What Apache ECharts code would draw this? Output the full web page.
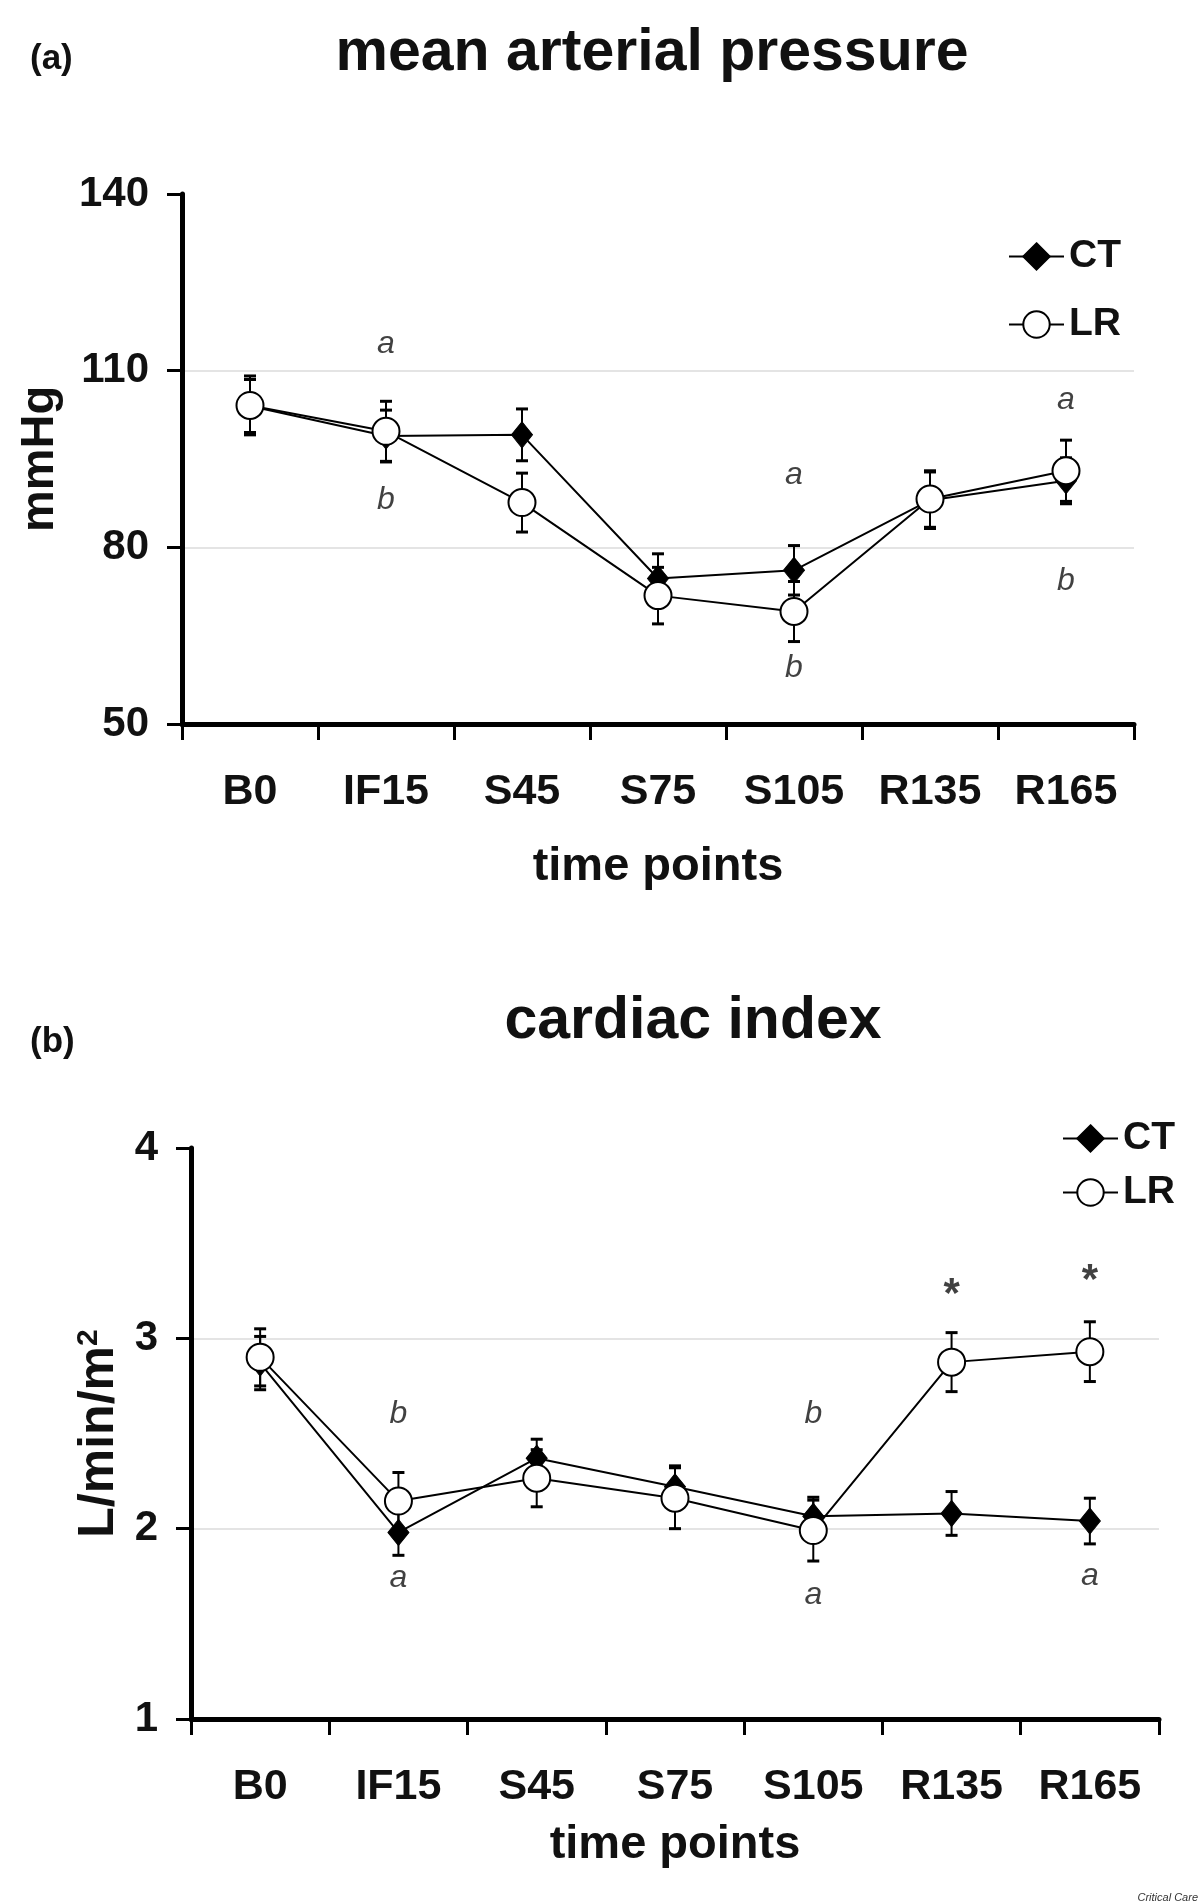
<!DOCTYPE html>
<html><head><meta charset="utf-8">
<script src="https://cdn.jsdelivr.net/npm/echarts@6/dist/echarts.min.js"></script>
<style>html,body{margin:0;padding:0;background:#fff}#c{width:1200px;height:1904px}</style>
</head><body><div id="c"></div>
<script>
// ---------- data ----------
const categories = ['B0', 'IF15', 'S45', 'S75', 'S105', 'R135', 'R165'];

// (a) mean arterial pressure (mmHg)
const mapTicks = [50, 80, 110, 140];
const mapCT    = [104.0, 98.9, 99.1, 74.7, 76.1, 88.0, 91.3];
const mapCTErr = [4.5, 4.4, 4.4, 4.2, 4.2, 4.8, 3.9];
const mapLR    = [104.1, 99.7, 87.6, 71.8, 69.1, 88.2, 93.0];
const mapLRErr = [5.0, 5.1, 5.0, 4.8, 5.1, 4.8, 5.2];
const mapNotes = [['IF15', 114.5, 'a'], ['IF15', 88.0, 'b'], ['S105', 92.2, 'a'], ['S105', 59.5, 'b'], ['R165', 105.0, 'a'], ['R165', 74.3, 'b']];

// (b) cardiac index (L/min/m2)
const ciTicks  = [1, 2, 3, 4];
const ciCT     = [2.87, 1.98, 2.37, 2.22, 2.065, 2.08, 2.04];
const ciCTErr  = [0.14, 0.12, 0.10, 0.11, 0.10, 0.115, 0.12];
const ciLR     = [2.90, 2.145, 2.265, 2.16, 1.99, 2.875, 2.93];
const ciLRErr  = [0.15, 0.15, 0.15, 0.16, 0.16, 0.155, 0.157];
const ciNotes  = [['IF15', 2.60, 'b'], ['IF15', 1.74, 'a'], ['S105', 2.60, 'b'], ['S105', 1.65, 'a'], ['R165', 1.75, 'a'], ['R135', 3.27, '*'], ['R165', 3.34, '*']];

// ---------- styling ----------
const F = '"Liberation Sans", Arial, Helvetica, sans-serif';
const INK = '#111';

function xAxisCfg(gi, nameGap) {
  return {
    type: 'category', gridIndex: gi, data: categories, boundaryGap: true,
    axisLine: { show: true, lineStyle: { color: '#000', width: 5 } },
    axisTick: { show: true, length: 16, lineStyle: { color: '#000', width: 3 } },
    axisLabel: { fontFamily: F, fontSize: 43, fontWeight: 'bold', color: INK, margin: 47 },
    name: 'time points', nameLocation: 'middle', nameGap: nameGap,
    nameTextStyle: { fontFamily: F, fontSize: 47, fontWeight: 'bold', color: INK },
    splitLine: { show: false }
  };
}
function yAxisCfg(gi, ticks, name, nameGap, margin, fs, rich) {
  const iv = ticks[1] - ticks[0];
  const cfg = {
    type: 'value', gridIndex: gi, min: ticks[0], max: ticks[ticks.length - 1], interval: iv,
    axisLine: { show: true, lineStyle: { color: '#000', width: 5 } },
    axisTick: { show: true, length: 15, lineStyle: { color: '#000', width: 3 } },
    axisLabel: { fontFamily: F, fontSize: 42, fontWeight: 'bold', color: INK, margin: margin },
    splitLine: { show: true, showMaxLine: false, showMinLine: false, lineStyle: { color: '#e4e4e4', width: 2 } },
    name: name, nameLocation: 'middle', nameGap: nameGap,
    nameTextStyle: { fontFamily: F, fontSize: fs, fontWeight: 'bold', color: INK }
  };
  if (rich) cfg.nameTextStyle.rich = rich;
  return cfg;
}
function lineSeries(name, vals, gi, isCT) {
  return {
    name: name, type: 'line', xAxisIndex: gi, yAxisIndex: gi, data: vals, z: isCT ? 3 : 4,
    symbol: isCT ? 'diamond' : 'circle', symbolSize: isCT ? [21, 26] : 27,
    showSymbol: true,
    lineStyle: { color: '#000', width: 2 },
    itemStyle: isCT ? { color: '#000', borderColor: '#000', borderWidth: 1 } : { color: '#fff', borderColor: '#000', borderWidth: 2 }
  };
}
function errSeries(vals, errs, gi) {
  return {
    type: 'custom', xAxisIndex: gi, yAxisIndex: gi, z: 2,
    data: vals.map((v, i) => [i, v - errs[i], v + errs[i]]),
    renderItem: function (params, api) {
      const lo = api.coord([api.value(0), api.value(1)]);
      const hi = api.coord([api.value(0), api.value(2)]);
      const w = 6;
      return { type: 'group', children: [
        { type: 'line', shape: { x1: lo[0], y1: lo[1], x2: hi[0], y2: hi[1] }, style: { stroke: '#000', lineWidth: 2 } },
        { type: 'line', shape: { x1: lo[0] - w, y1: lo[1], x2: lo[0] + w, y2: lo[1] }, style: { stroke: '#000', lineWidth: 3 } },
        { type: 'line', shape: { x1: hi[0] - w, y1: hi[1], x2: hi[0] + w, y2: hi[1] }, style: { stroke: '#000', lineWidth: 3 } }
      ]};
    }
  };
}
function noteSeries(notes, gi) {
  return {
    type: 'scatter', xAxisIndex: gi, yAxisIndex: gi, symbolSize: 0, z: 5, silent: true,
    data: notes.map(n => {
      const star = n[2] === '*';
      return {
        value: [n[0], n[1], n[2]],
        label: {
          show: true, position: 'inside', formatter: p => p.value[2],
          fontFamily: F, color: INK,
          fontSize: star ? 42 : 32, fontStyle: star ? 'normal' : 'italic', fontWeight: star ? 'bold' : 'normal',
          offset: star ? [0, 8] : [0, 0]
        }
      };
    })
  };
}
function legendCfg(left, top, gap) {
  return {
    data: ['CT', 'LR'], orient: 'vertical', left: left, top: top, padding: 0,
    itemWidth: 55, itemHeight: 33, itemGap: gap, selectedMode: false,
    textStyle: { fontFamily: F, fontSize: 39, fontWeight: 'bold', color: INK }
  };
}

const chart = echarts.init(document.getElementById('c'), null, { renderer: 'canvas' });
chart.setOption({
  animation: false,
  backgroundColor: '#fff',
  title: [
    { text: 'mean arterial pressure', left: 652, top: 24, textAlign: 'center', padding: 0,
      textStyle: { fontFamily: F, fontSize: 59, fontWeight: 'bold', color: INK } },
    { text: '(a)', left: 30, top: 42, padding: 0, textStyle: { fontFamily: F, fontSize: 35, fontWeight: 'bold', color: INK } },
    { text: 'cardiac index', left: 693, top: 992, textAlign: 'center', padding: 0,
      textStyle: { fontFamily: F, fontSize: 59, fontWeight: 'bold', color: INK } },
    { text: '(b)', left: 30, top: 1025, padding: 0, textStyle: { fontFamily: F, fontSize: 35, fontWeight: 'bold', color: INK } },
    { text: 'Critical Care', right: 2, bottom: 1, padding: 0,
      textStyle: { fontFamily: F, fontSize: 11, fontStyle: 'italic', fontWeight: 'normal', color: '#333' } }
  ],
  legend: [legendCfg(1008, 237, 29), legendCfg(1062, 1119, 15)],
  grid: [
    { left: 182, top: 194, width: 952, height: 530 },
    { left: 191, top: 1148, width: 968, height: 571 }
  ],
  xAxis: [xAxisCfg(0, 120), xAxisCfg(1, 103)],
  yAxis: [
    yAxisCfg(0, mapTicks, 'mmHg', 118, 33, 47),
    yAxisCfg(1, ciTicks, '{m|L/min/m}{s|2}', 62, 33, 50, {
      m: { fontFamily: F, fontSize: 50, fontWeight: 'bold', color: INK },
      s: { fontFamily: F, fontSize: 30, fontWeight: 'bold', color: INK, verticalAlign: 'top' }
    })
  ],
  series: [
    errSeries(mapCT, mapCTErr, 0), errSeries(mapLR, mapLRErr, 0),
    lineSeries('CT', mapCT, 0, true), lineSeries('LR', mapLR, 0, false),
    noteSeries(mapNotes, 0),
    errSeries(ciCT, ciCTErr, 1), errSeries(ciLR, ciLRErr, 1),
    lineSeries('CT', ciCT, 1, true), lineSeries('LR', ciLR, 1, false),
    noteSeries(ciNotes, 1)
  ]
});
</script></body></html>
